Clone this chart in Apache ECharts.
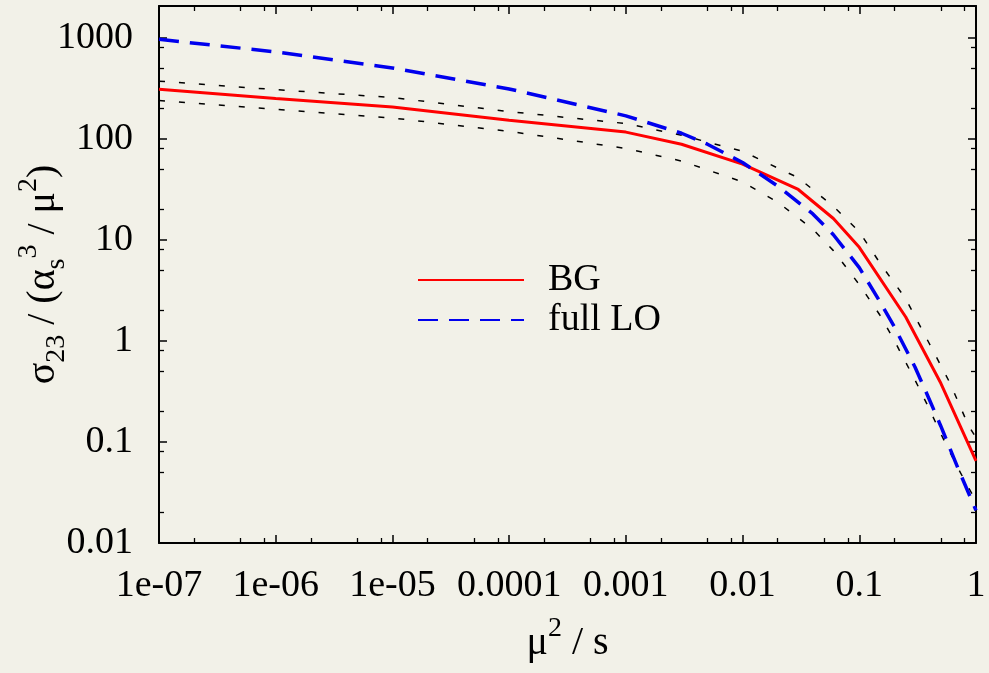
<!DOCTYPE html>
<html>
<head>
<meta charset="utf-8">
<script src="https://cdn.jsdelivr.net/npm/echarts@6/dist/echarts.min.js"></script>
<style>
  html, body { margin: 0; padding: 0; background: #f2f1e8; }
  #chart { width: 989px; height: 673px; }
</style>
</head>
<body>
<div id="chart"></div>
<script>
// ---- data ----
const bgX = [1e-7, 1e-6, 1e-5, 1e-4, 1e-3, 3e-3, 0.01, 0.03, 0.06, 0.1, 0.25, 0.5, 1];
const bgY = [308, 250, 205, 152, 116, 88, 56, 31.4, 16.2, 8.4, 1.72, 0.38, 0.065];

const loX = [1e-7, 1e-6, 1e-5, 1e-4, 1e-3, 3e-3, 0.005, 0.01, 0.02, 0.04, 0.06, 0.1, 0.15, 0.2, 0.3, 0.4, 0.5, 0.7, 1];
const loY = [960, 720, 500, 310, 168, 113, 88, 58, 34, 18, 11.2, 5.3, 2.45, 1.37, 0.55, 0.26, 0.143, 0.055, 0.021];

const upX = [1e-7, 1e-6, 1e-5, 1e-4, 1e-3, 3e-3, 0.01, 0.03, 0.06, 0.1, 0.15, 0.25, 0.4, 0.6, 0.86, 1];
const upY = [370, 305, 255, 185, 141, 108, 75, 41, 21.4, 12, 5.9, 2.6, 0.93, 0.38, 0.146, 0.11];

const lowX = [1e-7, 1e-6, 1e-5, 1e-4, 1e-3, 3e-3, 0.01, 0.02, 0.04, 0.06, 0.1, 0.15, 0.2, 0.3, 0.4, 0.5, 0.7, 1];
const lowY = [238, 195, 160, 118, 80, 60, 37.3, 23.5, 12.7, 7.8, 3.6, 1.8, 1.0, 0.41, 0.21, 0.12, 0.055, 0.026];

const xTickLabels = ['1e-07', '1e-06', '1e-05', '0.0001', '0.001', '0.01', '0.1', '1'];
const yTickLabels = ['0.01', '0.1', '1', '10', '100', '1000'];

const xMin = 1e-7, xMax = 1;
const yMin = 0.01, yMax = 2050;
const minorMultipliers = [2, 5, 8];

// ---- helpers ----
function pairs(xs, ys) { return xs.map((x, i) => [x, ys[i]]); }
function minorLogPositions(lo, hi) {
  const out = [];
  for (let d = Math.floor(Math.log10(lo)); d <= Math.ceil(Math.log10(hi)); d++) {
    minorMultipliers.forEach(m => {
      const v = d + Math.log10(m);
      if (v > Math.log10(lo) + 1e-9 && v < Math.log10(hi) - 0.02) out.push(v);
    });
  }
  return out;
}

const FONT = 'Liberation Serif';
const black = '#000';

function majorX(pos, showLabel) {
  return {
    type: 'log', logBase: 10, min: xMin, max: xMax, position: pos,
    axisLine: { show: true, onZero: false, lineStyle: { color: black, width: 2 } },
    axisTick: { show: true, inside: true, length: 8, lineStyle: { color: black, width: 1.5 } },
    axisLabel: {
      show: showLabel, color: black, fontFamily: FONT, fontSize: 38, margin: 24,
      showMaxLabel: true, showMinLabel: true,
      formatter: v => xTickLabels[Math.round(Math.log10(v)) + 7] || ''
    },
    splitLine: { show: false }, minorTick: { show: false }
  };
}
function minorX(pos) {
  return {
    type: 'value', min: Math.log10(xMin), max: Math.log10(xMax), position: pos,
    axisLine: { show: false, onZero: false },
    axisTick: { show: true, inside: true, length: 5, lineStyle: { color: black, width: 1.3 },
                customValues: minorLogPositions(xMin, xMax) },
    axisLabel: { show: false }, splitLine: { show: false }
  };
}
function majorY(pos, showLabel) {
  return {
    type: 'log', logBase: 10, min: yMin, max: yMax, position: pos,
    axisLine: { show: true, onZero: false, lineStyle: { color: black, width: 2 } },
    axisTick: { show: true, inside: true, length: 8, lineStyle: { color: black, width: 1.5 } },
    axisLabel: {
      show: showLabel, color: black, fontFamily: FONT, fontSize: 38, margin: 26,
      showMaxLabel: false,
      formatter: v => {
        const k = Math.log10(v);
        if (Math.abs(k - Math.round(k)) > 1e-6) return '';
        return yTickLabels[Math.round(k) + 2] || '';
      }
    },
    splitLine: { show: false }, minorTick: { show: false }
  };
}
function minorY(pos) {
  return {
    type: 'value', min: Math.log10(yMin), max: Math.log10(yMax), position: pos,
    axisLine: { show: false, onZero: false },
    axisTick: { show: true, inside: true, length: 5, lineStyle: { color: black, width: 1.3 },
                customValues: minorLogPositions(yMin, yMax) },
    axisLabel: { show: false }, splitLine: { show: false }
  };
}

const xAxes = [majorX('bottom', true), majorX('top', false), minorX('bottom'), minorX('top')];
xAxes[0].name = '{n|μ}{sup|2}{n| / s}';
xAxes[0].nameLocation = 'middle';
xAxes[0].nameGap = 72;
xAxes[0].nameMoveOverlap = false;
xAxes[0].nameTextStyle = {
  fontFamily: FONT, color: black,
  rich: {
    n: { fontFamily: FONT, fontSize: 40, color: black, lineHeight: 56, verticalAlign: 'middle' },
    sup: { fontFamily: FONT, fontSize: 28, color: black, lineHeight: 28, verticalAlign: 'top' }
  }
};

const yAxes = [majorY('left', true), majorY('right', false), minorY('left'), minorY('right')];
yAxes[0].name = '{n|σ}{sub|23}{n| / (α}{sub|s}{sup|3}{n| / μ}{sup|2}{n|)}';
yAxes[0].nameLocation = 'middle';
yAxes[0].nameGap = 88;
yAxes[0].nameMoveOverlap = false;
yAxes[0].nameTextStyle = {
  fontFamily: FONT, color: black,
  rich: {
    n: { fontFamily: FONT, fontSize: 40, color: black, lineHeight: 56, verticalAlign: 'middle' },
    sub: { fontFamily: FONT, fontSize: 28, color: black, lineHeight: 28, verticalAlign: 'bottom' },
    sup: { fontFamily: FONT, fontSize: 28, color: black, lineHeight: 28, verticalAlign: 'top' }
  }
};

const chart = echarts.init(document.getElementById('chart'), null, { renderer: 'canvas' });
chart.setOption({
  backgroundColor: '#f2f1e8',
  animation: false,
  grid: { left: 159, right: 13, top: 6, bottom: 130, containLabel: false, outerBoundsMode: 'none' },
  legend: {
    data: ['BG', 'full LO'],
    orient: 'vertical',
    left: 417, top: 260,
    padding: 0,
    itemGap: 0,
    itemWidth: 106, itemHeight: 14,
    itemStyle: { opacity: 0, borderWidth: 0 },
    textStyle: { fontFamily: FONT, fontSize: 38, color: black, lineHeight: 40, padding: [0, 0, 0, 19] },
    selectedMode: false
  },
  xAxis: xAxes,
  yAxis: yAxes,
  series: [
    { name: 'upper', type: 'line', xAxisIndex: 0, yAxisIndex: 0, data: pairs(upX, upY), symbol: 'none',
      lineStyle: { color: black, width: 1.5, type: [6, 14] }, z: 2 },
    { name: 'lower', type: 'line', xAxisIndex: 0, yAxisIndex: 0, data: pairs(lowX, lowY), symbol: 'none',
      lineStyle: { color: black, width: 1.5, type: [6, 14] }, z: 2 },
    { name: 'BG', type: 'line', xAxisIndex: 0, yAxisIndex: 0, data: pairs(bgX, bgY), symbol: 'none',
      color: '#ff0000', lineStyle: { color: '#ff0000', width: 3 }, z: 3 },
    { name: 'full LO', type: 'line', xAxisIndex: 0, yAxisIndex: 0, data: pairs(loX, loY), symbol: 'none',
      color: '#0000ee', lineStyle: { color: '#0000ee', width: 3.5, type: [20, 11] }, z: 4 }
  ]
});
</script>
</body>
</html>
